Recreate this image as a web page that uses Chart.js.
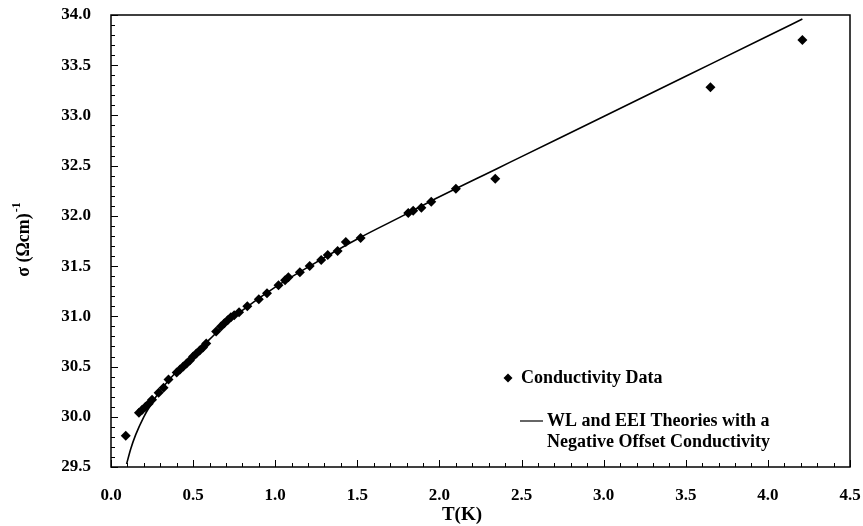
<!DOCTYPE html>
<html>
<head>
<meta charset="utf-8">
<script src="https://cdn.jsdelivr.net/npm/chart.js@4.4.0/dist/chart.umd.min.js"></script>
<style>
  html, body { margin: 0; padding: 0; background: #fff; }
  canvas { display: block; }
</style>
</head>
<body>
<canvas id="chart" width="863" height="526"></canvas>
<script>
// measured conductivity points
const tempK = [0.09, 0.17, 0.19, 0.21, 0.23, 0.25, 0.29, 0.32, 0.35, 0.40, 0.42, 0.44, 0.46, 0.48, 0.50,
  0.52, 0.54, 0.56, 0.58, 0.64, 0.67, 0.69, 0.71, 0.73, 0.75, 0.78, 0.83, 0.90, 0.95, 1.02, 1.06, 1.08,
  1.15, 1.21, 1.28, 1.32, 1.38, 1.43, 1.52, 1.81, 1.84, 1.89, 1.95, 2.10, 2.34, 3.65, 4.21];
const sigma = [29.81, 30.04, 30.07, 30.10, 30.13, 30.17, 30.24, 30.29, 30.37, 30.44, 30.47, 30.50, 30.53,
  30.56, 30.60, 30.63, 30.66, 30.69, 30.73, 30.85, 30.90, 30.93, 30.96, 30.99, 31.01, 31.04, 31.10, 31.17,
  31.23, 31.31, 31.36, 31.39, 31.44, 31.50, 31.56, 31.61, 31.65, 31.74, 31.78, 32.03, 32.05, 32.08, 32.14,
  32.27, 32.37, 33.28, 33.75];

// theory curve (WL + EEI)
const fitT = [0.095, 0.12, 0.15, 0.2, 0.25, 0.3, 0.4, 0.5, 0.6, 0.7, 0.8, 1.0, 1.2, 1.5, 1.8, 2.0, 2.35,
  2.5, 3.0, 3.5, 4.0, 4.21];
const fitSigma = [29.53, 29.68, 29.82, 30.00, 30.14, 30.26, 30.45, 30.61, 30.77, 30.93, 31.06, 31.29,
  31.49, 31.77, 32.02, 32.19, 32.47, 32.59, 32.99, 33.39, 33.79, 33.96];

const legendLabels = ['Conductivity Data', 'WL and EEI Theories with a', 'Negative Offset Conductivity'];

const serif = '"Liberation Serif", "Times New Roman", serif';

// frame, inside ticks, axis titles and legend
const decorPlugin = {
  id: 'decor',
  afterDraw(chart) {
    const ctx = chart.ctx;
    const a = chart.chartArea;
    const xs = chart.scales.x, ys = chart.scales.y;
    ctx.save();
    ctx.strokeStyle = '#000';
    ctx.lineWidth = 1.5;
    ctx.strokeRect(a.left, a.top, a.right - a.left, a.bottom - a.top);

    ctx.lineWidth = 1;
    ctx.beginPath();
    for (let i = 0; i <= 45; i++) {
      const px = Math.round(xs.getPixelForValue(i / 10)) + 0.5;
      const len = i % 5 === 0 ? 7 : 4;
      ctx.moveTo(px, a.bottom);
      ctx.lineTo(px, a.bottom - len);
    }
    for (let i = 0; i <= 45; i++) {
      const py = Math.round(ys.getPixelForValue(29.5 + i / 10)) + 0.5;
      const len = i % 5 === 0 ? 7 : 4;
      ctx.moveTo(a.left, py);
      ctx.lineTo(a.left + len, py);
    }
    ctx.stroke();

    ctx.fillStyle = '#000';

    // x axis title
    ctx.font = 'bold 19px ' + serif;
    ctx.textAlign = 'center';
    ctx.textBaseline = 'middle';
    ctx.fillText('T(K)', 462, 515);

    // y axis title
    ctx.translate(29, 240);
    ctx.rotate(-Math.PI / 2);
    ctx.font = 'bold 18px ' + serif;
    ctx.textBaseline = 'alphabetic';
    ctx.textAlign = 'left';
    const main = 'σ (Ωcm)';
    const w = ctx.measureText(main).width;
    ctx.font = 'bold 12px ' + serif;
    const sw = ctx.measureText('-1').width;
    const start = -(w + sw) / 2;
    ctx.font = 'bold 18px ' + serif;
    ctx.fillText(main, start, 0);
    ctx.font = 'bold 12px ' + serif;
    ctx.fillText('-1', start + w + 1, -9);
    ctx.setTransform(1, 0, 0, 1, 0, 0);

    // legend
    ctx.font = 'bold 18px ' + serif;
    ctx.textBaseline = 'middle';
    ctx.textAlign = 'left';
    const dx = 508, dy = 378, r = 4.5;
    ctx.beginPath();
    ctx.moveTo(dx, dy - r);
    ctx.lineTo(dx + r, dy);
    ctx.lineTo(dx, dy + r);
    ctx.lineTo(dx - r, dy);
    ctx.closePath();
    ctx.fill();
    ctx.fillText(legendLabels[0], 521, dy);

    ctx.lineWidth = 1.2;
    ctx.beginPath();
    ctx.moveTo(520, 421);
    ctx.lineTo(543, 421);
    ctx.stroke();
    ctx.fillText(legendLabels[1], 547, 421);
    ctx.fillText(legendLabels[2], 547, 442);
    ctx.restore();
  }
};

const tickFont = { family: serif, size: 17, weight: 'bold' };

new Chart(document.getElementById('chart'), {
  type: 'scatter',
  data: {
    datasets: [
      {
        label: 'Conductivity Data',
        data: tempK.map((t, i) => ({ x: t, y: sigma[i] })),
        pointStyle: 'rectRot',
        pointRadius: 5,
        backgroundColor: '#000',
        borderColor: '#000',
        borderWidth: 0,
        showLine: false
      },
      {
        label: 'WL and EEI Theories with a Negative Offset Conductivity',
        data: fitT.map((t, i) => ({ x: t, y: fitSigma[i] })),
        showLine: true,
        pointRadius: 0,
        borderColor: '#000',
        borderWidth: 1.6,
        cubicInterpolationMode: 'monotone'
      }
    ]
  },
  options: {
    responsive: false,
    animation: false,
    layout: { padding: { top: 15, right: 13, left: 0, bottom: 0 } },
    plugins: {
      legend: { display: false },
      tooltip: { enabled: false }
    },
    events: [],
    scales: {
      x: {
        type: 'linear',
        min: 0,
        max: 4.5,
        grid: { display: false },
        border: { display: false },
        ticks: {
          stepSize: 0.5,
          color: '#000',
          font: tickFont,
          padding: 10,
          callback: v => v.toFixed(1)
        },
        afterFit: s => {
          s.height = 59;
          s.paddingLeft = 0;
          s.paddingRight = 0;
        }
      },
      y: {
        min: 29.5,
        max: 34,
        grid: { display: false },
        border: { display: false },
        ticks: {
          stepSize: 0.5,
          color: '#000',
          font: tickFont,
          padding: 12,
          callback: v => v.toFixed(1)
        },
        afterFit: s => {
          s.width = 111;
          s.paddingTop = 0;
          s.paddingBottom = 0;
        }
      }
    }
  },
  plugins: [decorPlugin]
});
</script>
</body>
</html>
